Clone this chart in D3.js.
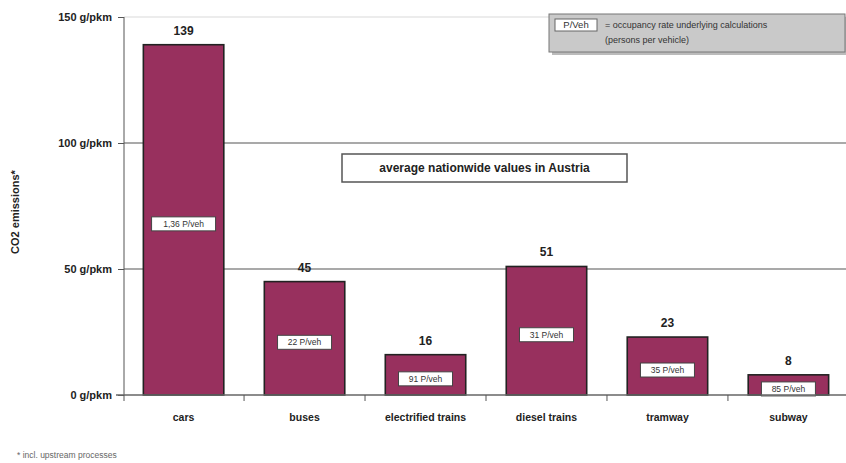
<!DOCTYPE html>
<html><head><meta charset="utf-8">
<script src="https://cdn.jsdelivr.net/npm/d3@7"></script>
<style>body{margin:0;background:#fff}svg{display:block}text{font-family:"Liberation Sans",Arial,sans-serif}</style>
</head><body><svg id="c" width="846" height="463"></svg>
<script>
const categories = ["cars","buses","electrified trains","diesel trains","tramway","subway"];
const values = [139,45,16,51,23,8];
const occupancy = ["1,36 P/veh","22 P/veh","91 P/veh","31 P/veh","35 P/veh","85 P/veh"];
const yTicks = [0,50,100,150];
const yTickLabels = ["0 g/pkm","50 g/pkm","100 g/pkm","150 g/pkm"];

const svg = d3.select("#c");
const m = {l:124, r:846, t:17, b:395};
const x = d3.scaleBand().domain(categories).range([m.l, 848]).paddingInner(0.335).paddingOuter(0.16);
const y = d3.scaleLinear().domain([0,150]).range([m.b, m.t]);

// gridlines
svg.append("g").selectAll("line").data([50,100]).join("line")
  .attr("x1", m.l).attr("x2", 846).attr("y1", d=>y(d)).attr("y2", d=>y(d))
  .attr("stroke","#555").attr("stroke-width",1.2);
svg.append("line").attr("x1",m.l).attr("x2",846).attr("y1",y(150)).attr("y2",y(150))
  .attr("stroke","#e6e6e6").attr("stroke-width",1.5);

// bars
svg.append("g").selectAll("rect").data(values).join("rect")
  .attr("x",(d,i)=>x(categories[i])).attr("width",x.bandwidth())
  .attr("y",d=>y(d)).attr("height",d=>y(0)-y(d))
  .attr("fill","#98305e").attr("stroke","#222").attr("stroke-width",1.6);

// value labels
svg.append("g").selectAll("text").data(values).join("text")
  .attr("x",(d,i)=>x(categories[i])+x.bandwidth()/2).attr("y",d=>y(d)-10)
  .attr("text-anchor","middle").attr("font-size",12).attr("font-weight","bold").attr("fill","#222")
  .text(d=>d);

// occupancy boxes
const occ = svg.append("g").selectAll("g").data(values).join("g")
  .attr("transform",(d,i)=>{
    const cx = x(categories[i])+x.bandwidth()/2;
    let cy = (y(d)+y(0))/2 + 4;
    cy = Math.min(cy, y(0)-5);
    return `translate(${cx},${cy})`;
  });
occ.append("rect").attr("x",(d,i)=>i===0?-32:-27).attr("width",(d,i)=>i===0?64:54)
  .attr("y",-7).attr("height",14).attr("fill","#fff").attr("stroke","#444").attr("stroke-width",1);
occ.append("text").attr("text-anchor","middle").attr("dy","0.35em").attr("font-size",8.5).attr("fill","#333")
  .text((d,i)=>occupancy[i]);

// y axis
const ya = svg.append("g").attr("transform",`translate(${m.l},0)`)
  .call(d3.axisLeft(y).tickValues(yTicks).tickSize(6).tickFormat((d,i)=>yTickLabels[i]));
ya.select(".domain").attr("stroke","#555").attr("d",`M-0,${y(0)}V${y(150)}`);
ya.selectAll(".tick line").attr("stroke","#555");
ya.selectAll(".tick text").attr("font-size",11).attr("font-weight","bold").attr("fill","#222")
  .attr("x",-12).attr("font-family","Liberation Sans, Arial, sans-serif");

// x axis
const xa = svg.append("g").attr("transform",`translate(0,${y(0)})`)
  .call(d3.axisBottom(x).tickSize(0).tickPadding(19));
xa.select(".domain").attr("stroke","#666").attr("stroke-width",1.5).attr("d",`M116,0H846`);
xa.selectAll(".tick text").attr("font-size",10.5).attr("font-weight","bold").attr("fill","#222")
  .attr("font-family","Liberation Sans, Arial, sans-serif");
// separator ticks between categories
const seps = categories.map((c,i)=> i===0 ? x(c) - x.step()*x.paddingOuter() : x(c) - x.step()*x.paddingInner()/2);
seps[0] = m.l;
svg.append("g").selectAll("line").data(seps).join("line")
  .attr("x1",d=>d).attr("x2",d=>d).attr("y1",y(0)).attr("y2",y(0)+6).attr("stroke","#555");

// y label
svg.append("text").attr("transform",`translate(19,212) rotate(-90)`).attr("text-anchor","middle")
  .attr("font-size",11).attr("font-weight","bold").attr("fill","#222").text("CO2 emissions*");

// center note
svg.append("rect").attr("x",342).attr("y",154).attr("width",285).attr("height",28)
  .attr("fill","#fff").attr("stroke","#555").attr("stroke-width",1.5);
svg.append("text").attr("x",484.5).attr("y",168).attr("dy","0.35em").attr("text-anchor","middle")
  .attr("font-size",12).attr("font-weight","bold").attr("fill","#222").text("average nationwide values in Austria");

// legend box
svg.append("rect").attr("x",552).attr("y",17).attr("width",296).attr("height",38).attr("fill","#bbb");
svg.append("rect").attr("x",549).attr("y",14).attr("width",296).attr("height",38)
  .attr("fill","#c9c9c9").attr("stroke","#777").attr("stroke-width",1);
svg.append("rect").attr("x",555).attr("y",19).attr("width",42).attr("height",12)
  .attr("fill","#fff").attr("stroke","#666");
svg.append("text").attr("x",576).attr("y",25).attr("dy","0.35em").attr("text-anchor","middle")
  .attr("font-size",9.5).attr("fill","#333").text("P/Veh");
svg.append("text").attr("x",605).attr("y",25).attr("dy","0.35em")
  .attr("font-size",9).attr("fill","#333").text("= occupancy rate underlying calculations");
svg.append("text").attr("x",605).attr("y",40).attr("dy","0.35em")
  .attr("font-size",9).attr("fill","#333").text("(persons per vehicle)");

// footnote
svg.append("text").attr("x",17).attr("y",455).attr("dy","0.35em")
  .attr("font-size",8.5).attr("fill","#666").text("* incl. upstream processes");
</script></body></html>
